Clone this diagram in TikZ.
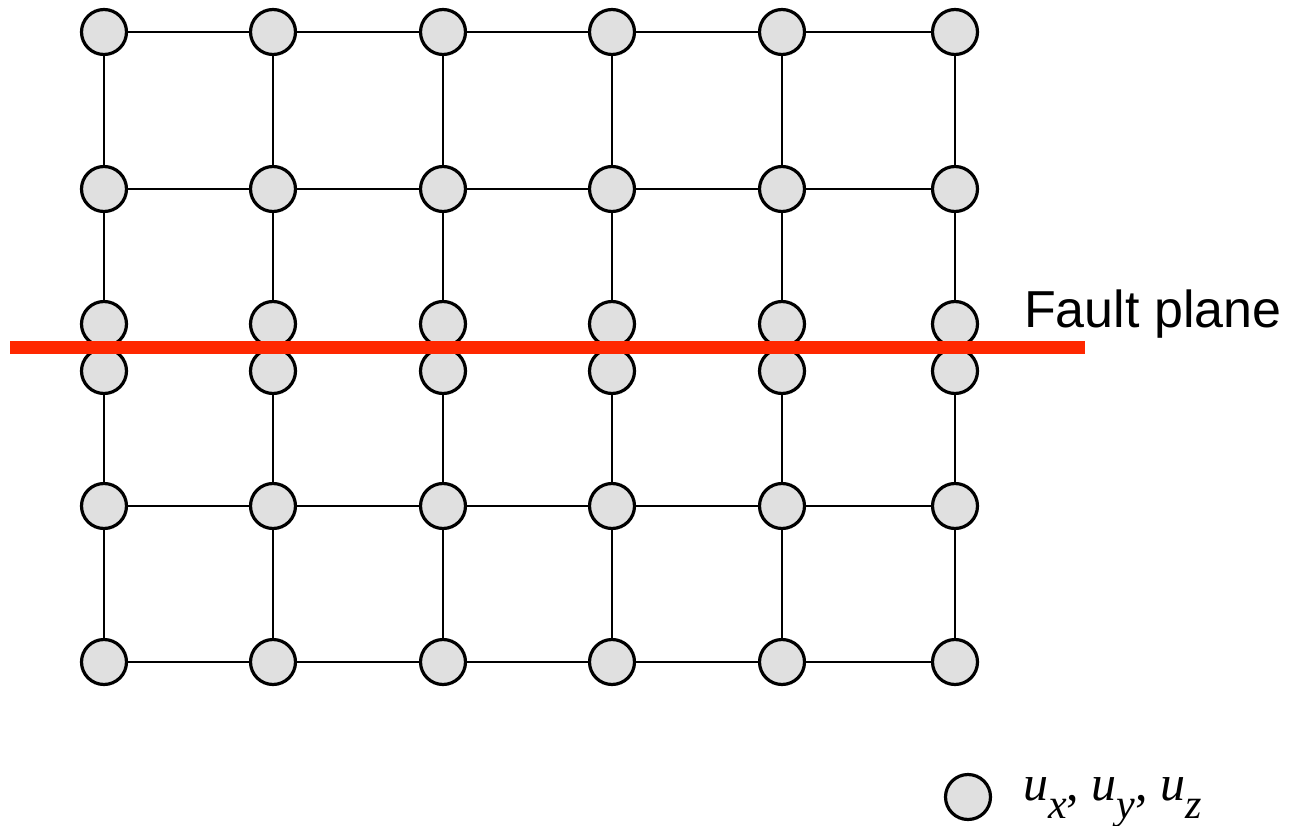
\documentclass[tikz,border=0pt]{standalone}
\usepackage{fontspec}
\setmainfont{Liberation Serif}
\newfontfamily\labelsans{Liberation Sans}
\definecolor{nodegray}{RGB}{224,224,224}
\definecolor{faultred}{RGB}{255,40,0}
\begin{document}
\begin{tikzpicture}[x=1pt,y=-1pt,
  dof/.style={circle, draw=black, fill=nodegray, line width=3.2pt,
              minimum size=45pt, inner sep=0pt},
  link/.style={line width=2.2pt, black},
  fault/.style={faultred, line width=13pt},
  faulttext/.style={font=\labelsans\fontsize{52}{60}\selectfont,
                    anchor=base west, inner sep=0pt},
  legendtext/.style={font=\fontsize{50}{56}\selectfont,
                     anchor=base west, inner sep=0pt},
]
\useasboundingbox (0,0) rectangle (1292,826);

% mesh nodes: rows a, b above the fault, u/l split nodes on it, e, f below
\foreach \i/\x in {1/104,2/273,3/443,4/612,5/782,6/955} {
  \node[dof] (a\i) at (\x,32)  {};
  \node[dof] (b\i) at (\x,189) {};
  \node[dof] (u\i) at (\x,324) {};
  \node[dof] (l\i) at (\x,371) {};
  \node[dof] (e\i) at (\x,506) {};
  \node[dof] (f\i) at (\x,662) {};
}

% horizontal links
\foreach \r in {a,b,e,f} {
  \foreach \i [evaluate=\i as \j using int(\i+1)] in {1,...,5} {
    \draw[link] (\r\i) -- (\r\j);
  }
}
% vertical links
\foreach \i in {1,...,6} {
  \draw[link] (a\i) -- (b\i);
  \draw[link] (b\i) -- (u\i);
  \draw[link] (l\i) -- (e\i);
  \draw[link] (e\i) -- (f\i);
}

% fault plane
\coordinate (fw) at (10,347.5);
\coordinate (fe) at (1085,347.5);
\draw[fault] (fw) -- (fe);
\node[faulttext] (flabel) at (1024,327) {Fault plane};

% legend
\node[dof] (key) at (968,797) {};
\node[legendtext] (keytext) at (1023,800)
  {\itshape u\raisebox{-18pt}{\fontsize{42}{44}\selectfont x}\upshape, %
   \itshape u\raisebox{-18pt}{\fontsize{42}{44}\selectfont y}\upshape, %
   \itshape u\raisebox{-18pt}{\fontsize{42}{44}\selectfont z}};
\end{tikzpicture}
\end{document}
